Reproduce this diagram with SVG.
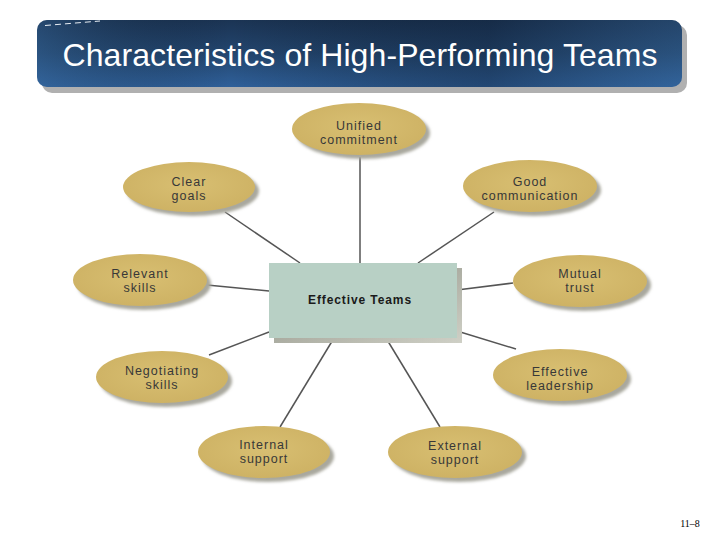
<svg xmlns="http://www.w3.org/2000/svg" width="720" height="540" viewBox="0 0 720 540">
<defs>
<linearGradient id="bannerV" x1="0" y1="0" x2="0" y2="1">
<stop offset="0" stop-color="#1b3454"/>
<stop offset="0.5" stop-color="#23466f"/>
<stop offset="1" stop-color="#2f609a"/>
</linearGradient>
<linearGradient id="bannerH" x1="0" y1="0" x2="1" y2="0">
<stop offset="0" stop-color="#3a6da0" stop-opacity="0.35"/>
<stop offset="0.3" stop-color="#000000" stop-opacity="0"/>
<stop offset="0.7" stop-color="#0c1a2e" stop-opacity="0.35"/>
<stop offset="1" stop-color="#3a6da0" stop-opacity="0.3"/>
</linearGradient>
<linearGradient id="rectShadow" x1="0" y1="0" x2="1" y2="1">
<stop offset="0" stop-color="#8a8c80"/>
<stop offset="1" stop-color="#cfd0c6"/>
</linearGradient>
<radialGradient id="ellFill" cx="0.5" cy="0.45" r="0.6">
<stop offset="0" stop-color="#d8bf72"/>
<stop offset="1" stop-color="#cdb163"/>
</radialGradient>
<filter id="blur" x="-20%" y="-20%" width="140%" height="140%">
<feGaussianBlur stdDeviation="1.5"/>
</filter>
</defs>
<style>
.ell{fill:url(#ellFill);}
.sh{fill:#a9a89e;filter:url(#blur);}
.lbl{font-family:"Liberation Sans",Arial,sans-serif;font-size:12.5px;fill:#383838;text-anchor:middle;letter-spacing:1px;}
.conn line{stroke:#555555;stroke-width:1.5;}
</style>
<rect width="720" height="540" fill="#ffffff"/>
<g id="title">
<rect x="42" y="25" width="645" height="68" rx="10" fill="#b0b0b0"/>
<rect x="37" y="20" width="645" height="67" rx="10" fill="url(#bannerV)"/>
<rect x="37" y="20" width="645" height="67" rx="10" fill="url(#bannerH)"/>
<line x1="45" y1="25.5" x2="100" y2="21" stroke="#e8eef5" stroke-width="1" stroke-dasharray="6,4"/>
<text x="360" y="66" font-family="&quot;Liberation Sans&quot;,Arial,sans-serif" font-size="32" fill="#ffffff" text-anchor="middle" textLength="595">Characteristics of High-Performing Teams</text>
</g>
<g id="connectors" class="conn">
<line x1="360" y1="157" x2="360" y2="263"/>
<line x1="225" y1="212" x2="300" y2="263"/>
<line x1="207" y1="285" x2="269" y2="291"/>
<line x1="494" y1="212" x2="418" y2="263"/>
<line x1="513" y1="283" x2="457" y2="290"/>
<line x1="209" y1="355" x2="269" y2="332"/>
<line x1="280" y1="427" x2="334" y2="338"/>
<line x1="440" y1="427" x2="386" y2="338"/>
<line x1="516" y1="349" x2="457" y2="331"/>
</g>
<g id="center">
<rect x="274" y="268" width="188" height="75" fill="url(#rectShadow)"/>
<rect x="269" y="263" width="188" height="75" fill="#b8d0c5"/>
<text x="360" y="304" font-family="&quot;Liberation Sans&quot;,Arial,sans-serif" font-size="12" font-weight="bold" fill="#1a1a1a" text-anchor="middle" letter-spacing="0.9">Effective Teams</text>
</g>
<g id="unified">
<ellipse class="sh" cx="363" cy="133" rx="67" ry="26"/>
<ellipse class="ell" cx="359" cy="129" rx="67" ry="26"/>
<text class="lbl" x="359" y="130">Unified</text>
<text class="lbl" x="359" y="144">commitment</text>
</g>
<g id="clear">
<ellipse class="sh" cx="193" cy="191" rx="66" ry="25"/>
<ellipse class="ell" cx="189" cy="187" rx="66" ry="25"/>
<text class="lbl" x="189" y="186">Clear</text>
<text class="lbl" x="189" y="200">goals</text>
</g>
<g id="good">
<ellipse class="sh" cx="534" cy="190" rx="67" ry="26"/>
<ellipse class="ell" cx="530" cy="186" rx="67" ry="26"/>
<text class="lbl" x="530" y="186">Good</text>
<text class="lbl" x="530" y="200">communication</text>
</g>
<g id="relevant">
<ellipse class="sh" cx="144" cy="284" rx="67" ry="26"/>
<ellipse class="ell" cx="140" cy="280" rx="67" ry="26"/>
<text class="lbl" x="140" y="278">Relevant</text>
<text class="lbl" x="140" y="292">skills</text>
</g>
<g id="mutual">
<ellipse class="sh" cx="584" cy="285" rx="67" ry="26"/>
<ellipse class="ell" cx="580" cy="281" rx="67" ry="26"/>
<text class="lbl" x="580" y="278">Mutual</text>
<text class="lbl" x="580" y="292">trust</text>
</g>
<g id="negotiating">
<ellipse class="sh" cx="166" cy="381" rx="66" ry="26"/>
<ellipse class="ell" cx="162" cy="377" rx="66" ry="26"/>
<text class="lbl" x="162" y="375">Negotiating</text>
<text class="lbl" x="162" y="389">skills</text>
</g>
<g id="leadership">
<ellipse class="sh" cx="564" cy="379" rx="67" ry="26"/>
<ellipse class="ell" cx="560" cy="375" rx="67" ry="26"/>
<text class="lbl" x="560" y="376">Effective</text>
<text class="lbl" x="560" y="390">leadership</text>
</g>
<g id="internal">
<ellipse class="sh" cx="268" cy="456" rx="66" ry="26"/>
<ellipse class="ell" cx="264" cy="452" rx="66" ry="26"/>
<text class="lbl" x="264" y="449">Internal</text>
<text class="lbl" x="264" y="463">support</text>
</g>
<g id="external">
<ellipse class="sh" cx="459" cy="456" rx="67" ry="26"/>
<ellipse class="ell" cx="455" cy="452" rx="67" ry="26"/>
<text class="lbl" x="455" y="450">External</text>
<text class="lbl" x="455" y="464">support</text>
</g>
<text x="690" y="527" font-family="&quot;Liberation Serif&quot;,'Times New Roman',serif" font-size="10" fill="#000000" text-anchor="middle">11–8</text>
</svg>
